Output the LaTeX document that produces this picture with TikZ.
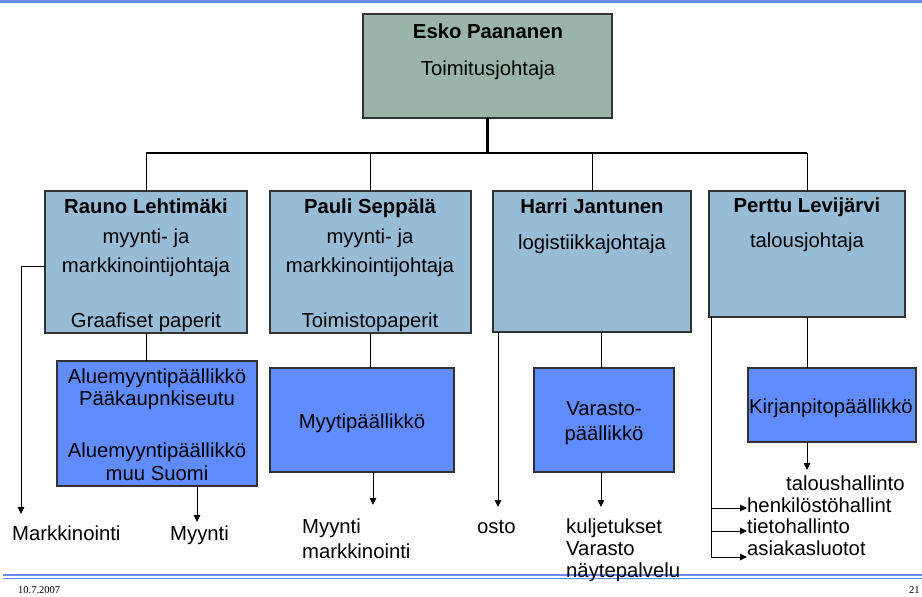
\documentclass[tikz,border=0pt]{standalone}
\usepackage{fontspec}
\setmainfont{Liberation Sans}
\newfontfamily\datefont{Liberation Serif}
\usetikzlibrary{arrows.meta}
\definecolor{ceofill}{RGB}{154,181,168}
\definecolor{mgrfill}{RGB}{152,187,214}
\definecolor{subfill}{RGB}{96,140,255}
\definecolor{rulecol}{RGB}{104,140,240}
\definecolor{edgecol}{RGB}{50,50,50}
\begin{document}
\begin{tikzpicture}[x=1pt,y=-1pt,
  box/.style={draw=edgecol, line width=1.1pt, inner sep=0pt, outer sep=0pt, anchor=north west},
  ceobox/.style={box, fill=ceofill},
  mgrbox/.style={box, fill=mgrfill},
  subbox/.style={box, fill=subfill},
  txt/.style={font=\fontsize{20.3}{24}\selectfont, inner sep=0pt, anchor=base},
  ltxt/.style={txt, anchor=base west},
  head/.style={txt, font=\fontsize{20.3}{24}\selectfont\bfseries},
  conn/.style={draw=black, line width=1pt},
  arr/.style={conn, -{Triangle[length=7pt,width=6.5pt]}},
  foot/.style={font=\datefont\fontsize{10.5}{12}\selectfont, inner sep=0pt, anchor=base west},
]
\useasboundingbox (0,0) rectangle (922,597);
\fill[white] (0,0) rectangle (922,597);

% page rules
\fill[rulecol] (0,0) rectangle (922,3);
\draw[rulecol, line width=2pt] (3,575) -- (922,575);
\draw[rulecol, line width=1pt] (3,578.5) -- (922,578.5);
\node[foot] (date) at (18,593) {10.7.2007};
\node[foot] (pageno) at (909,593) {21};

% boxes
\node[ceobox, minimum width=249pt, minimum height=104pt] (ceo) at (363,14) {};
\node[mgrbox, minimum width=202pt, minimum height=142pt] (rauno) at (45,191) {};
\node[mgrbox, minimum width=201pt, minimum height=142pt] (pauli) at (270,191) {};
\node[mgrbox, minimum width=198pt, minimum height=141pt] (harri) at (493,191) {};
\node[mgrbox, minimum width=196pt, minimum height=126pt] (perttu) at (709,191) {};
\node[subbox, minimum width=200pt, minimum height=125pt] (alue) at (57,361) {};
\node[subbox, minimum width=184pt, minimum height=104pt] (myyti) at (270,368) {};
\node[subbox, minimum width=140pt, minimum height=104pt] (varasto) at (534,368) {};
\node[subbox, minimum width=168pt, minimum height=74pt] (kirjan) at (748,368) {};

% box texts
\node[head] (ceoname) at (488,38) {Esko Paananen};
\node[txt] (ceotitle) at (488,75) {Toimitusjohtaja};

\node[head] (raunoname) at (146,213) {Rauno Lehtimäki};
\node[txt] (raunot1) at (146,243) {myynti- ja};
\node[txt] (raunot2) at (146,272) {markkinointijohtaja};
\node[txt] (raunot3) at (146,327) {Graafiset paperit};

\node[head] (pauliname) at (370,213) {Pauli Seppälä};
\node[txt] (paulit1) at (370,243) {myynti- ja};
\node[txt] (paulit2) at (370,272) {markkinointijohtaja};
\node[txt] (paulit3) at (370,327) {Toimistopaperit};

\node[head] (harriname) at (592,213) {Harri Jantunen};
\node[txt] (harrit1) at (592,249) {logistiikkajohtaja};

\node[head] (perttuname) at (807,212) {Perttu Levijärvi};
\node[txt] (perttut1) at (807,247) {talousjohtaja};

\node[txt] (alue1) at (157,383) {Aluemyyntipäällikkö};
\node[txt] (alue2) at (157,405) {Pääkaupnkiseutu};
\node[txt] (alue3) at (157,457) {Aluemyyntipäällikkö};
\node[txt] (alue4) at (157,480) {muu Suomi};

\node[txt] (myytit) at (362,428) {Myytipäällikkö};
\node[txt] (varastot1) at (604,415) {Varasto-};
\node[txt] (varastot2) at (604,440) {päällikkö};
\node[txt] (kirjant) at (831,413) {Kirjanpitopäällikkö};

% reporting lines
\coordinate (bus) at (0,153);
\draw[conn, line width=2.4pt] (ceo.south) -- (ceo.south |- bus);
\draw[conn, line width=1.4pt] (rauno.north |- bus) -- (perttu.north |- bus);
\foreach \n in {rauno,pauli,harri,perttu}
  \draw[conn] (\n.north |- bus) -- (\n.north);

\draw[conn] (rauno.south) -- (rauno.south |- alue.north);
\draw[conn] (pauli.south) -- (pauli.south |- myyti.north);
\draw[conn] ([xshift=9pt]harri.south) -- ([xshift=9pt]harri.south |- varasto.north);
\draw[conn] (perttu.south) -- (perttu.south |- kirjan.north);

% functions
\node[ltxt] (mk) at (12,540) {Markkinointi};
\coordinate (mkend) at (21,514);
\draw[arr] ([yshift=-4pt]rauno.west) -| (mkend);

\node[ltxt] (myynti) at (170,540) {Myynti};
\coordinate (myend) at (197,522);
\draw[arr] (alue.south -| myend) -- (myend);

\node[ltxt] (mm1) at (302,533) {Myynti};
\node[ltxt] (mm2) at (302,558) {markkinointi};
\coordinate (myyend) at (373,505);
\draw[arr] (myyti.south -| myyend) -- (myyend);

\node[ltxt] (osto) at (477,533) {osto};
\coordinate (ostoend) at (498,507);
\draw[arr] (harri.south -| ostoend) -- (ostoend);

\node[ltxt] (kul) at (566,533) {kuljetukset};
\node[ltxt] (var) at (566,555) {Varasto};
\node[ltxt] (nayte) at (566,577) {näytepalvelu};
\coordinate (vend) at (601,507);
\draw[arr] (varasto.south -| vend) -- (vend);

\node[ltxt] (talous) at (786,490) {taloushallinto};
\coordinate (kend) at (807,470);
\draw[arr] (kirjan.south -| kend) -- (kend);

\node[ltxt] (henk) at (747,512) {henkilöstöhallint};
\node[ltxt] (tieto) at (747,533) {tietohallinto};
\node[ltxt] (asiak) at (747,555) {asiakasluotot};
\coordinate (b1) at (711,508);
\coordinate (b2) at (711,531);
\coordinate (b3) at (711,557);
\draw[conn] ([xshift=2pt]perttu.south west) -- (b3);
\draw[arr] (b1) -- (b1 -| henk.west);
\draw[arr] (b2) -- (b2 -| tieto.west);
\draw[arr] (b3) -- (b3 -| asiak.west);
\end{tikzpicture}
\end{document}
